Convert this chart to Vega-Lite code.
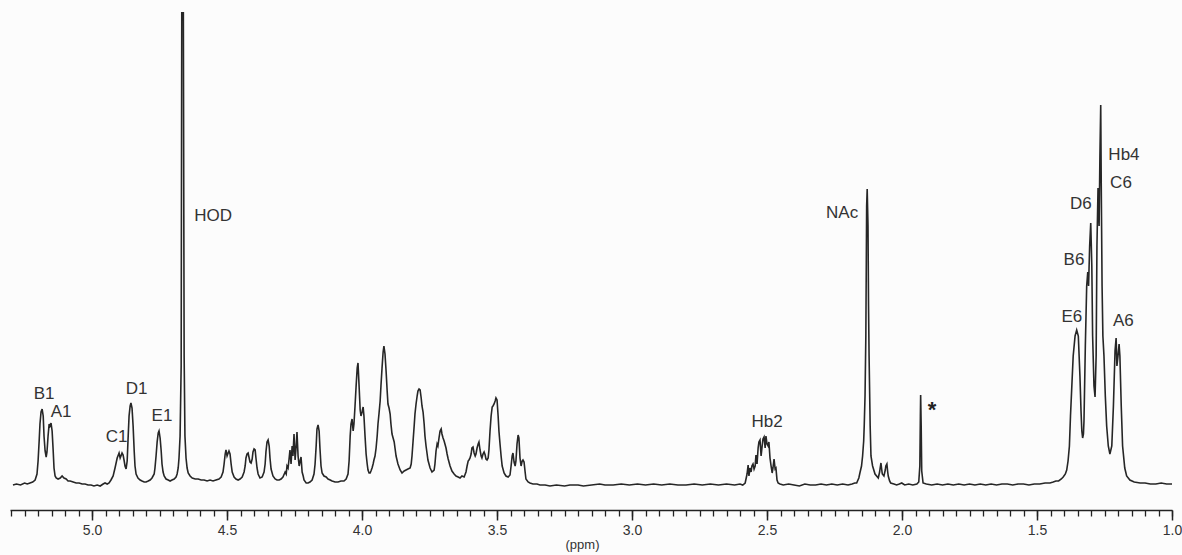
{
  "$schema": "https://vega.github.io/schema/vega-lite/v6.json",
  "width": 1162,
  "height": 498,
  "autosize": {"type": "none"},
  "padding": {"left": 10, "top": 12, "right": 10, "bottom": 45},
  "background": "#fcfcfc",
  "config": {"view": {"stroke": null}},
  "datasets": {
    "spectrum": [
      {"ppm":5.293,"intensity":1},{"ppm":5.280,"intensity":2},{"ppm":5.265,"intensity":1},{"ppm":5.250,"intensity":3},{"ppm":5.240,"intensity":2},{"ppm":5.230,"intensity":3},{"ppm":5.220,"intensity":4},{"ppm":5.211,"intensity":6},{"ppm":5.204,"intensity":12},{"ppm":5.200,"intensity":25},{"ppm":5.196,"intensity":45},{"ppm":5.193,"intensity":62},{"ppm":5.189,"intensity":74},{"ppm":5.185,"intensity":77},{"ppm":5.181,"intensity":70},{"ppm":5.178,"intensity":50},{"ppm":5.174,"intensity":35},{"ppm":5.170,"intensity":29},{"ppm":5.167,"intensity":34},{"ppm":5.163,"intensity":50},{"ppm":5.159,"intensity":62},{"ppm":5.156,"intensity":60},{"ppm":5.152,"intensity":63},{"ppm":5.148,"intensity":55},{"ppm":5.144,"intensity":35},{"ppm":5.141,"intensity":18},{"ppm":5.137,"intensity":10},{"ppm":5.133,"intensity":8},{"ppm":5.126,"intensity":7},{"ppm":5.118,"intensity":8},{"ppm":5.111,"intensity":10},{"ppm":5.104,"intensity":8},{"ppm":5.096,"intensity":7},{"ppm":5.089,"intensity":5},{"ppm":5.081,"intensity":5},{"ppm":5.070,"intensity":4},{"ppm":5.059,"intensity":3},{"ppm":5.048,"intensity":3},{"ppm":5.037,"intensity":2},{"ppm":5.026,"intensity":2},{"ppm":5.015,"intensity":1},{"ppm":5.004,"intensity":1},{"ppm":4.993,"intensity":0},{"ppm":4.981,"intensity":1},{"ppm":4.970,"intensity":0},{"ppm":4.959,"intensity":2},{"ppm":4.952,"intensity":3},{"ppm":4.944,"intensity":2},{"ppm":4.937,"intensity":3},{"ppm":4.930,"intensity":6},{"ppm":4.922,"intensity":10},{"ppm":4.915,"intensity":18},{"ppm":4.907,"intensity":28},{"ppm":4.900,"intensity":33},{"ppm":4.896,"intensity":28},{"ppm":4.893,"intensity":30},{"ppm":4.889,"intensity":33},{"ppm":4.885,"intensity":31},{"ppm":4.881,"intensity":25},{"ppm":4.878,"intensity":20},{"ppm":4.874,"intensity":17},{"ppm":4.870,"intensity":25},{"ppm":4.867,"intensity":45},{"ppm":4.863,"intensity":70},{"ppm":4.859,"intensity":80},{"ppm":4.856,"intensity":83},{"ppm":4.852,"intensity":78},{"ppm":4.848,"intensity":60},{"ppm":4.844,"intensity":35},{"ppm":4.841,"intensity":20},{"ppm":4.837,"intensity":12},{"ppm":4.830,"intensity":8},{"ppm":4.822,"intensity":6},{"ppm":4.815,"intensity":5},{"ppm":4.807,"intensity":4},{"ppm":4.800,"intensity":4},{"ppm":4.792,"intensity":5},{"ppm":4.785,"intensity":6},{"ppm":4.778,"intensity":8},{"ppm":4.770,"intensity":12},{"ppm":4.767,"intensity":18},{"ppm":4.763,"intensity":30},{"ppm":4.759,"intensity":44},{"ppm":4.755,"intensity":53},{"ppm":4.752,"intensity":55},{"ppm":4.748,"intensity":48},{"ppm":4.744,"intensity":35},{"ppm":4.741,"intensity":22},{"ppm":4.737,"intensity":14},{"ppm":4.733,"intensity":10},{"ppm":4.726,"intensity":7},{"ppm":4.718,"intensity":6},{"ppm":4.711,"intensity":5},{"ppm":4.704,"intensity":6},{"ppm":4.696,"intensity":7},{"ppm":4.689,"intensity":9},{"ppm":4.685,"intensity":12},{"ppm":4.681,"intensity":18},{"ppm":4.678,"intensity":28},{"ppm":4.674,"intensity":50},{"ppm":4.670,"intensity":120},{"ppm":4.667,"intensity":600},{"ppm":4.663,"intensity":600},{"ppm":4.659,"intensity":130},{"ppm":4.656,"intensity":50},{"ppm":4.652,"intensity":28},{"ppm":4.648,"intensity":18},{"ppm":4.644,"intensity":13},{"ppm":4.637,"intensity":10},{"ppm":4.629,"intensity":8},{"ppm":4.618,"intensity":7},{"ppm":4.607,"intensity":7},{"ppm":4.596,"intensity":6},{"ppm":4.585,"intensity":6},{"ppm":4.574,"intensity":5},{"ppm":4.563,"intensity":6},{"ppm":4.552,"intensity":5},{"ppm":4.541,"intensity":6},{"ppm":4.530,"intensity":7},{"ppm":4.522,"intensity":9},{"ppm":4.515,"intensity":14},{"ppm":4.511,"intensity":22},{"ppm":4.507,"intensity":32},{"ppm":4.504,"intensity":36},{"ppm":4.500,"intensity":30},{"ppm":4.496,"intensity":33},{"ppm":4.493,"intensity":35},{"ppm":4.489,"intensity":32},{"ppm":4.485,"intensity":22},{"ppm":4.481,"intensity":14},{"ppm":4.474,"intensity":9},{"ppm":4.467,"intensity":7},{"ppm":4.459,"intensity":6},{"ppm":4.452,"intensity":7},{"ppm":4.444,"intensity":9},{"ppm":4.437,"intensity":14},{"ppm":4.433,"intensity":20},{"ppm":4.430,"intensity":28},{"ppm":4.426,"intensity":32},{"ppm":4.422,"intensity":33},{"ppm":4.419,"intensity":29},{"ppm":4.415,"intensity":24},{"ppm":4.411,"intensity":23},{"ppm":4.407,"intensity":27},{"ppm":4.404,"intensity":34},{"ppm":4.400,"intensity":37},{"ppm":4.396,"intensity":36},{"ppm":4.393,"intensity":28},{"ppm":4.389,"intensity":18},{"ppm":4.385,"intensity":12},{"ppm":4.378,"intensity":8},{"ppm":4.370,"intensity":9},{"ppm":4.363,"intensity":14},{"ppm":4.359,"intensity":22},{"ppm":4.356,"intensity":34},{"ppm":4.352,"intensity":44},{"ppm":4.348,"intensity":46},{"ppm":4.344,"intensity":40},{"ppm":4.341,"intensity":28},{"ppm":4.337,"intensity":17},{"ppm":4.330,"intensity":10},{"ppm":4.322,"intensity":7},{"ppm":4.315,"intensity":6},{"ppm":4.307,"intensity":6},{"ppm":4.300,"intensity":7},{"ppm":4.293,"intensity":9},{"ppm":4.285,"intensity":14},{"ppm":4.281,"intensity":12},{"ppm":4.278,"intensity":20},{"ppm":4.274,"intensity":18},{"ppm":4.270,"intensity":28},{"ppm":4.267,"intensity":36},{"ppm":4.263,"intensity":22},{"ppm":4.259,"intensity":40},{"ppm":4.256,"intensity":30},{"ppm":4.252,"intensity":52},{"ppm":4.248,"intensity":26},{"ppm":4.244,"intensity":40},{"ppm":4.241,"intensity":54},{"ppm":4.237,"intensity":30},{"ppm":4.233,"intensity":20},{"ppm":4.230,"intensity":24},{"ppm":4.226,"intensity":29},{"ppm":4.222,"intensity":14},{"ppm":4.218,"intensity":10},{"ppm":4.215,"intensity":6},{"ppm":4.207,"intensity":3},{"ppm":4.200,"intensity":3},{"ppm":4.193,"intensity":4},{"ppm":4.185,"intensity":6},{"ppm":4.178,"intensity":12},{"ppm":4.174,"intensity":22},{"ppm":4.170,"intensity":40},{"ppm":4.167,"intensity":57},{"ppm":4.163,"intensity":61},{"ppm":4.159,"intensity":55},{"ppm":4.156,"intensity":38},{"ppm":4.152,"intensity":20},{"ppm":4.148,"intensity":13},{"ppm":4.141,"intensity":10},{"ppm":4.133,"intensity":9},{"ppm":4.126,"intensity":7},{"ppm":4.118,"intensity":6},{"ppm":4.111,"intensity":5},{"ppm":4.100,"intensity":4},{"ppm":4.089,"intensity":4},{"ppm":4.078,"intensity":5},{"ppm":4.067,"intensity":5},{"ppm":4.059,"intensity":7},{"ppm":4.052,"intensity":12},{"ppm":4.048,"intensity":25},{"ppm":4.044,"intensity":50},{"ppm":4.041,"intensity":62},{"ppm":4.037,"intensity":67},{"ppm":4.033,"intensity":55},{"ppm":4.030,"intensity":62},{"ppm":4.026,"intensity":80},{"ppm":4.022,"intensity":100},{"ppm":4.018,"intensity":118},{"ppm":4.015,"intensity":123},{"ppm":4.011,"intensity":100},{"ppm":4.007,"intensity":76},{"ppm":4.004,"intensity":70},{"ppm":4.000,"intensity":74},{"ppm":3.996,"intensity":79},{"ppm":3.993,"intensity":70},{"ppm":3.989,"intensity":50},{"ppm":3.985,"intensity":32},{"ppm":3.981,"intensity":22},{"ppm":3.978,"intensity":16},{"ppm":3.974,"intensity":13},{"ppm":3.970,"intensity":13},{"ppm":3.967,"intensity":15},{"ppm":3.963,"intensity":18},{"ppm":3.959,"intensity":22},{"ppm":3.956,"intensity":26},{"ppm":3.952,"intensity":30},{"ppm":3.948,"intensity":38},{"ppm":3.944,"intensity":50},{"ppm":3.941,"intensity":62},{"ppm":3.937,"intensity":73},{"ppm":3.933,"intensity":85},{"ppm":3.930,"intensity":100},{"ppm":3.926,"intensity":118},{"ppm":3.922,"intensity":134},{"ppm":3.919,"intensity":140},{"ppm":3.915,"intensity":132},{"ppm":3.911,"intensity":115},{"ppm":3.907,"intensity":95},{"ppm":3.904,"intensity":82},{"ppm":3.900,"intensity":78},{"ppm":3.896,"intensity":72},{"ppm":3.893,"intensity":62},{"ppm":3.889,"intensity":52},{"ppm":3.885,"intensity":48},{"ppm":3.881,"intensity":44},{"ppm":3.878,"intensity":38},{"ppm":3.874,"intensity":30},{"ppm":3.867,"intensity":22},{"ppm":3.859,"intensity":16},{"ppm":3.852,"intensity":13},{"ppm":3.844,"intensity":15},{"ppm":3.837,"intensity":16},{"ppm":3.830,"intensity":17},{"ppm":3.822,"intensity":18},{"ppm":3.818,"intensity":22},{"ppm":3.815,"intensity":30},{"ppm":3.811,"intensity":45},{"ppm":3.807,"intensity":60},{"ppm":3.804,"intensity":72},{"ppm":3.800,"intensity":82},{"ppm":3.796,"intensity":90},{"ppm":3.793,"intensity":95},{"ppm":3.789,"intensity":97},{"ppm":3.785,"intensity":96},{"ppm":3.781,"intensity":88},{"ppm":3.778,"intensity":80},{"ppm":3.774,"intensity":74},{"ppm":3.770,"intensity":62},{"ppm":3.767,"intensity":50},{"ppm":3.763,"intensity":40},{"ppm":3.759,"intensity":32},{"ppm":3.756,"intensity":26},{"ppm":3.748,"intensity":18},{"ppm":3.741,"intensity":14},{"ppm":3.733,"intensity":16},{"ppm":3.730,"intensity":22},{"ppm":3.726,"intensity":35},{"ppm":3.722,"intensity":42},{"ppm":3.719,"intensity":40},{"ppm":3.715,"intensity":48},{"ppm":3.711,"intensity":55},{"ppm":3.707,"intensity":57},{"ppm":3.704,"intensity":52},{"ppm":3.700,"intensity":48},{"ppm":3.696,"intensity":45},{"ppm":3.693,"intensity":42},{"ppm":3.689,"intensity":38},{"ppm":3.685,"intensity":32},{"ppm":3.681,"intensity":27},{"ppm":3.678,"intensity":24},{"ppm":3.674,"intensity":20},{"ppm":3.667,"intensity":15},{"ppm":3.659,"intensity":12},{"ppm":3.652,"intensity":10},{"ppm":3.644,"intensity":9},{"ppm":3.637,"intensity":8},{"ppm":3.630,"intensity":10},{"ppm":3.622,"intensity":9},{"ppm":3.615,"intensity":14},{"ppm":3.611,"intensity":20},{"ppm":3.607,"intensity":25},{"ppm":3.604,"intensity":26},{"ppm":3.600,"intensity":28},{"ppm":3.596,"intensity":32},{"ppm":3.593,"intensity":38},{"ppm":3.589,"intensity":39},{"ppm":3.585,"intensity":33},{"ppm":3.581,"intensity":30},{"ppm":3.578,"intensity":32},{"ppm":3.574,"intensity":38},{"ppm":3.570,"intensity":42},{"ppm":3.567,"intensity":44},{"ppm":3.563,"intensity":36},{"ppm":3.559,"intensity":30},{"ppm":3.556,"intensity":28},{"ppm":3.552,"intensity":32},{"ppm":3.548,"intensity":34},{"ppm":3.544,"intensity":31},{"ppm":3.541,"intensity":27},{"ppm":3.537,"intensity":26},{"ppm":3.533,"intensity":28},{"ppm":3.530,"intensity":36},{"ppm":3.526,"intensity":55},{"ppm":3.522,"intensity":70},{"ppm":3.518,"intensity":79},{"ppm":3.515,"intensity":80},{"ppm":3.511,"intensity":82},{"ppm":3.507,"intensity":85},{"ppm":3.504,"intensity":88},{"ppm":3.500,"intensity":86},{"ppm":3.496,"intensity":70},{"ppm":3.493,"intensity":55},{"ppm":3.489,"intensity":42},{"ppm":3.485,"intensity":30},{"ppm":3.481,"intensity":20},{"ppm":3.474,"intensity":13},{"ppm":3.467,"intensity":10},{"ppm":3.459,"intensity":9},{"ppm":3.452,"intensity":11},{"ppm":3.448,"intensity":20},{"ppm":3.444,"intensity":30},{"ppm":3.441,"intensity":33},{"ppm":3.437,"intensity":24},{"ppm":3.433,"intensity":20},{"ppm":3.430,"intensity":25},{"ppm":3.426,"intensity":42},{"ppm":3.422,"intensity":51},{"ppm":3.419,"intensity":48},{"ppm":3.415,"intensity":28},{"ppm":3.411,"intensity":20},{"ppm":3.407,"intensity":25},{"ppm":3.404,"intensity":26},{"ppm":3.400,"intensity":24},{"ppm":3.396,"intensity":14},{"ppm":3.393,"intensity":7},{"ppm":3.385,"intensity":4},{"ppm":3.378,"intensity":3},{"ppm":3.367,"intensity":2},{"ppm":3.352,"intensity":2},{"ppm":3.341,"intensity":1},{"ppm":3.322,"intensity":1},{"ppm":3.304,"intensity":0},{"ppm":3.280,"intensity":1},{"ppm":3.250,"intensity":0},{"ppm":3.230,"intensity":1},{"ppm":3.200,"intensity":1},{"ppm":3.180,"intensity":0},{"ppm":3.150,"intensity":1},{"ppm":3.120,"intensity":2},{"ppm":3.100,"intensity":1},{"ppm":3.070,"intensity":1},{"ppm":3.040,"intensity":2},{"ppm":3.010,"intensity":1},{"ppm":2.980,"intensity":2},{"ppm":2.950,"intensity":1},{"ppm":2.920,"intensity":2},{"ppm":2.890,"intensity":1},{"ppm":2.860,"intensity":2},{"ppm":2.830,"intensity":1},{"ppm":2.800,"intensity":1},{"ppm":2.770,"intensity":2},{"ppm":2.740,"intensity":1},{"ppm":2.710,"intensity":2},{"ppm":2.680,"intensity":1},{"ppm":2.650,"intensity":2},{"ppm":2.620,"intensity":1},{"ppm":2.600,"intensity":2},{"ppm":2.590,"intensity":1},{"ppm":2.581,"intensity":3},{"ppm":2.574,"intensity":12},{"ppm":2.570,"intensity":21},{"ppm":2.567,"intensity":10},{"ppm":2.563,"intensity":18},{"ppm":2.559,"intensity":14},{"ppm":2.556,"intensity":20},{"ppm":2.552,"intensity":22},{"ppm":2.548,"intensity":17},{"ppm":2.544,"intensity":20},{"ppm":2.541,"intensity":31},{"ppm":2.537,"intensity":22},{"ppm":2.533,"intensity":38},{"ppm":2.530,"intensity":44},{"ppm":2.526,"intensity":46},{"ppm":2.522,"intensity":30},{"ppm":2.518,"intensity":40},{"ppm":2.515,"intensity":47},{"ppm":2.511,"intensity":49},{"ppm":2.507,"intensity":38},{"ppm":2.504,"intensity":50},{"ppm":2.500,"intensity":42},{"ppm":2.496,"intensity":40},{"ppm":2.493,"intensity":44},{"ppm":2.489,"intensity":28},{"ppm":2.485,"intensity":20},{"ppm":2.481,"intensity":13},{"ppm":2.478,"intensity":18},{"ppm":2.474,"intensity":27},{"ppm":2.470,"intensity":17},{"ppm":2.467,"intensity":18},{"ppm":2.463,"intensity":6},{"ppm":2.459,"intensity":3},{"ppm":2.452,"intensity":2},{"ppm":2.440,"intensity":1},{"ppm":2.420,"intensity":2},{"ppm":2.400,"intensity":1},{"ppm":2.380,"intensity":0},{"ppm":2.360,"intensity":2},{"ppm":2.340,"intensity":1},{"ppm":2.320,"intensity":1},{"ppm":2.300,"intensity":2},{"ppm":2.280,"intensity":1},{"ppm":2.260,"intensity":2},{"ppm":2.240,"intensity":1},{"ppm":2.220,"intensity":2},{"ppm":2.200,"intensity":1},{"ppm":2.185,"intensity":2},{"ppm":2.175,"intensity":3},{"ppm":2.168,"intensity":3},{"ppm":2.160,"intensity":8},{"ppm":2.156,"intensity":13},{"ppm":2.150,"intensity":20},{"ppm":2.146,"intensity":30},{"ppm":2.142,"intensity":45},{"ppm":2.140,"intensity":60},{"ppm":2.137,"intensity":90},{"ppm":2.134,"intensity":150},{"ppm":2.131,"intensity":280},{"ppm":2.129,"intensity":297},{"ppm":2.126,"intensity":260},{"ppm":2.124,"intensity":180},{"ppm":2.122,"intensity":130},{"ppm":2.118,"intensity":60},{"ppm":2.115,"intensity":30},{"ppm":2.109,"intensity":20},{"ppm":2.100,"intensity":12},{"ppm":2.088,"intensity":8},{"ppm":2.083,"intensity":14},{"ppm":2.081,"intensity":18},{"ppm":2.078,"intensity":23},{"ppm":2.075,"intensity":16},{"ppm":2.073,"intensity":12},{"ppm":2.067,"intensity":10},{"ppm":2.062,"intensity":16},{"ppm":2.060,"intensity":20},{"ppm":2.056,"intensity":22},{"ppm":2.053,"intensity":14},{"ppm":2.051,"intensity":10},{"ppm":2.046,"intensity":5},{"ppm":2.042,"intensity":3},{"ppm":2.030,"intensity":2},{"ppm":2.020,"intensity":1},{"ppm":2.010,"intensity":2},{"ppm":2.001,"intensity":3},{"ppm":1.990,"intensity":1},{"ppm":1.975,"intensity":2},{"ppm":1.960,"intensity":1},{"ppm":1.945,"intensity":2},{"ppm":1.938,"intensity":4},{"ppm":1.934,"intensity":20},{"ppm":1.932,"intensity":70},{"ppm":1.931,"intensity":91},{"ppm":1.929,"intensity":60},{"ppm":1.927,"intensity":15},{"ppm":1.922,"intensity":3},{"ppm":1.910,"intensity":2},{"ppm":1.890,"intensity":1},{"ppm":1.870,"intensity":2},{"ppm":1.850,"intensity":1},{"ppm":1.830,"intensity":2},{"ppm":1.810,"intensity":1},{"ppm":1.790,"intensity":2},{"ppm":1.770,"intensity":1},{"ppm":1.750,"intensity":2},{"ppm":1.730,"intensity":1},{"ppm":1.710,"intensity":2},{"ppm":1.690,"intensity":1},{"ppm":1.670,"intensity":2},{"ppm":1.650,"intensity":1},{"ppm":1.630,"intensity":2},{"ppm":1.610,"intensity":2},{"ppm":1.590,"intensity":1},{"ppm":1.570,"intensity":2},{"ppm":1.550,"intensity":2},{"ppm":1.530,"intensity":1},{"ppm":1.510,"intensity":2},{"ppm":1.490,"intensity":2},{"ppm":1.470,"intensity":3},{"ppm":1.452,"intensity":3},{"ppm":1.440,"intensity":4},{"ppm":1.430,"intensity":5},{"ppm":1.420,"intensity":5},{"ppm":1.410,"intensity":7},{"ppm":1.403,"intensity":9},{"ppm":1.395,"intensity":12},{"ppm":1.390,"intensity":16},{"ppm":1.385,"intensity":25},{"ppm":1.380,"intensity":40},{"ppm":1.376,"intensity":70},{"ppm":1.371,"intensity":100},{"ppm":1.366,"intensity":130},{"ppm":1.359,"intensity":150},{"ppm":1.353,"intensity":156},{"ppm":1.347,"intensity":150},{"ppm":1.341,"intensity":110},{"ppm":1.337,"intensity":75},{"ppm":1.334,"intensity":55},{"ppm":1.331,"intensity":48},{"ppm":1.328,"intensity":52},{"ppm":1.326,"intensity":65},{"ppm":1.321,"intensity":140},{"ppm":1.316,"intensity":200},{"ppm":1.312,"intensity":214},{"ppm":1.309,"intensity":200},{"ppm":1.305,"intensity":240},{"ppm":1.301,"intensity":263},{"ppm":1.297,"intensity":220},{"ppm":1.294,"intensity":150},{"ppm":1.289,"intensity":100},{"ppm":1.285,"intensity":89},{"ppm":1.281,"intensity":130},{"ppm":1.278,"intensity":240},{"ppm":1.274,"intensity":298},{"ppm":1.270,"intensity":260},{"ppm":1.267,"intensity":330},{"ppm":1.264,"intensity":381},{"ppm":1.262,"intensity":300},{"ppm":1.259,"intensity":200},{"ppm":1.256,"intensity":150},{"ppm":1.252,"intensity":130},{"ppm":1.247,"intensity":90},{"ppm":1.242,"intensity":60},{"ppm":1.236,"intensity":40},{"ppm":1.230,"intensity":32},{"ppm":1.223,"intensity":40},{"ppm":1.217,"intensity":80},{"ppm":1.211,"intensity":135},{"ppm":1.207,"intensity":148},{"ppm":1.204,"intensity":120},{"ppm":1.200,"intensity":130},{"ppm":1.196,"intensity":142},{"ppm":1.193,"intensity":130},{"ppm":1.188,"intensity":80},{"ppm":1.183,"intensity":40},{"ppm":1.175,"intensity":18},{"ppm":1.168,"intensity":10},{"ppm":1.156,"intensity":6},{"ppm":1.140,"intensity":4},{"ppm":1.118,"intensity":3},{"ppm":1.100,"intensity":3},{"ppm":1.080,"intensity":2},{"ppm":1.060,"intensity":2},{"ppm":1.040,"intensity":3},{"ppm":1.020,"intensity":2},{"ppm":1.000,"intensity":2}
    ],
    "labels": [
      {"ppm":5.178,"intensity":92,"label":"B1"},
      {"ppm":5.115,"intensity":74,"label":"A1"},
      {"ppm":4.909,"intensity":49,"label":"C1"},
      {"ppm":4.835,"intensity":97,"label":"D1"},
      {"ppm":4.741,"intensity":70,"label":"E1"},
      {"ppm":4.552,"intensity":270,"label":"HOD"},
      {"ppm":2.500,"intensity":64,"label":"Hb2"},
      {"ppm":2.222,"intensity":273,"label":"NAc"},
      {"ppm":1.178,"intensity":331,"label":"Hb4"},
      {"ppm":1.189,"intensity":303,"label":"C6"},
      {"ppm":1.338,"intensity":282,"label":"D6"},
      {"ppm":1.363,"intensity":226,"label":"B6"},
      {"ppm":1.371,"intensity":169,"label":"E6"},
      {"ppm":1.180,"intensity":165,"label":"A6"}
    ],
    "markers": [
      {"ppm":1.889,"intensity":76,"label":"*"}
    ]
  },
  "layer": [
    {
      "data": {"name": "spectrum"},
      "mark": {"type": "line", "color": "#262626", "strokeWidth": 1.6, "clip": true},
      "encoding": {
        "x": {
          "field": "ppm", "type": "quantitative",
          "scale": {"domain": [1.0, 5.304], "reverse": true, "nice": false, "zero": false},
          "axis": {
            "orient": "bottom",
            "values": [5.3,5.25,5.2,5.15,5.1,5.05,5.0,4.95,4.9,4.85,4.8,4.75,4.7,4.65,4.6,4.55,4.5,4.45,4.4,4.35,4.3,4.25,4.2,4.15,4.1,4.05,4.0,3.95,3.9,3.85,3.8,3.75,3.7,3.65,3.6,3.55,3.5,3.45,3.4,3.35,3.3,3.25,3.2,3.15,3.1,3.05,3.0,2.95,2.9,2.85,2.8,2.75,2.7,2.65,2.6,2.55,2.5,2.45,2.4,2.35,2.3,2.25,2.2,2.15,2.1,2.05,2.0,1.95,1.9,1.85,1.8,1.75,1.7,1.65,1.6,1.55,1.5,1.45,1.4,1.35,1.3,1.25,1.2,1.15,1.1,1.05,1.0],
            "labels": false, "title": null, "grid": false,
            "tickSize": 6, "tickWidth": 1.3, "tickColor": "#222",
            "domain": true, "domainColor": "#222", "domainWidth": 1.6
          }
        },
        "y": {
          "field": "intensity", "type": "quantitative",
          "scale": {"domain": [-24, 474], "nice": false, "zero": false},
          "axis": null
        }
      }
    },
    {
      "data": {"name": "labels"},
      "mark": {"type": "text", "font": "Liberation Sans", "fontSize": 17, "color": "#333333", "align": "center", "baseline": "middle"},
      "encoding": {
        "x": {
          "field": "ppm", "type": "quantitative",
          "scale": {"domain": [1.0, 5.304], "reverse": true, "nice": false, "zero": false},
          "axis": {
            "orient": "bottom",
            "values": [5.0,4.5,4.0,3.5,3.0,2.5,2.0,1.5,1.0],
            "format": ".1f", "grid": false, "domain": false,
            "tickSize": 10, "tickWidth": 1.5, "tickColor": "#222",
            "labelFont": "Liberation Sans", "labelFontSize": 14, "labelColor": "#333333", "labelPadding": 3, "labelFlush": false, "labelOverlap": false,
            "title": "(ppm)", "titleFont": "Liberation Sans", "titleFontSize": 13, "titleFontWeight": "normal", "titleColor": "#333333", "titlePadding": 1, "titleX": 572
          }
        },
        "y": {
          "field": "intensity", "type": "quantitative",
          "scale": {"domain": [-24, 474], "nice": false, "zero": false},
          "axis": null
        },
        "text": {"field": "label", "type": "nominal"}
      }
    },
    {
      "data": {"name": "markers"},
      "mark": {"type": "text", "font": "Liberation Sans", "fontSize": 22, "fontWeight": "bold", "color": "#222222", "align": "center", "baseline": "middle"},
      "encoding": {
        "x": {
          "field": "ppm", "type": "quantitative",
          "scale": {"domain": [1.0, 5.304], "reverse": true, "nice": false, "zero": false},
          "axis": null
        },
        "y": {
          "field": "intensity", "type": "quantitative",
          "scale": {"domain": [-24, 474], "nice": false, "zero": false},
          "axis": null
        },
        "text": {"field": "label", "type": "nominal"}
      }
    }
  ],
  "resolve": {"axis": {"x": "independent"}}
}
